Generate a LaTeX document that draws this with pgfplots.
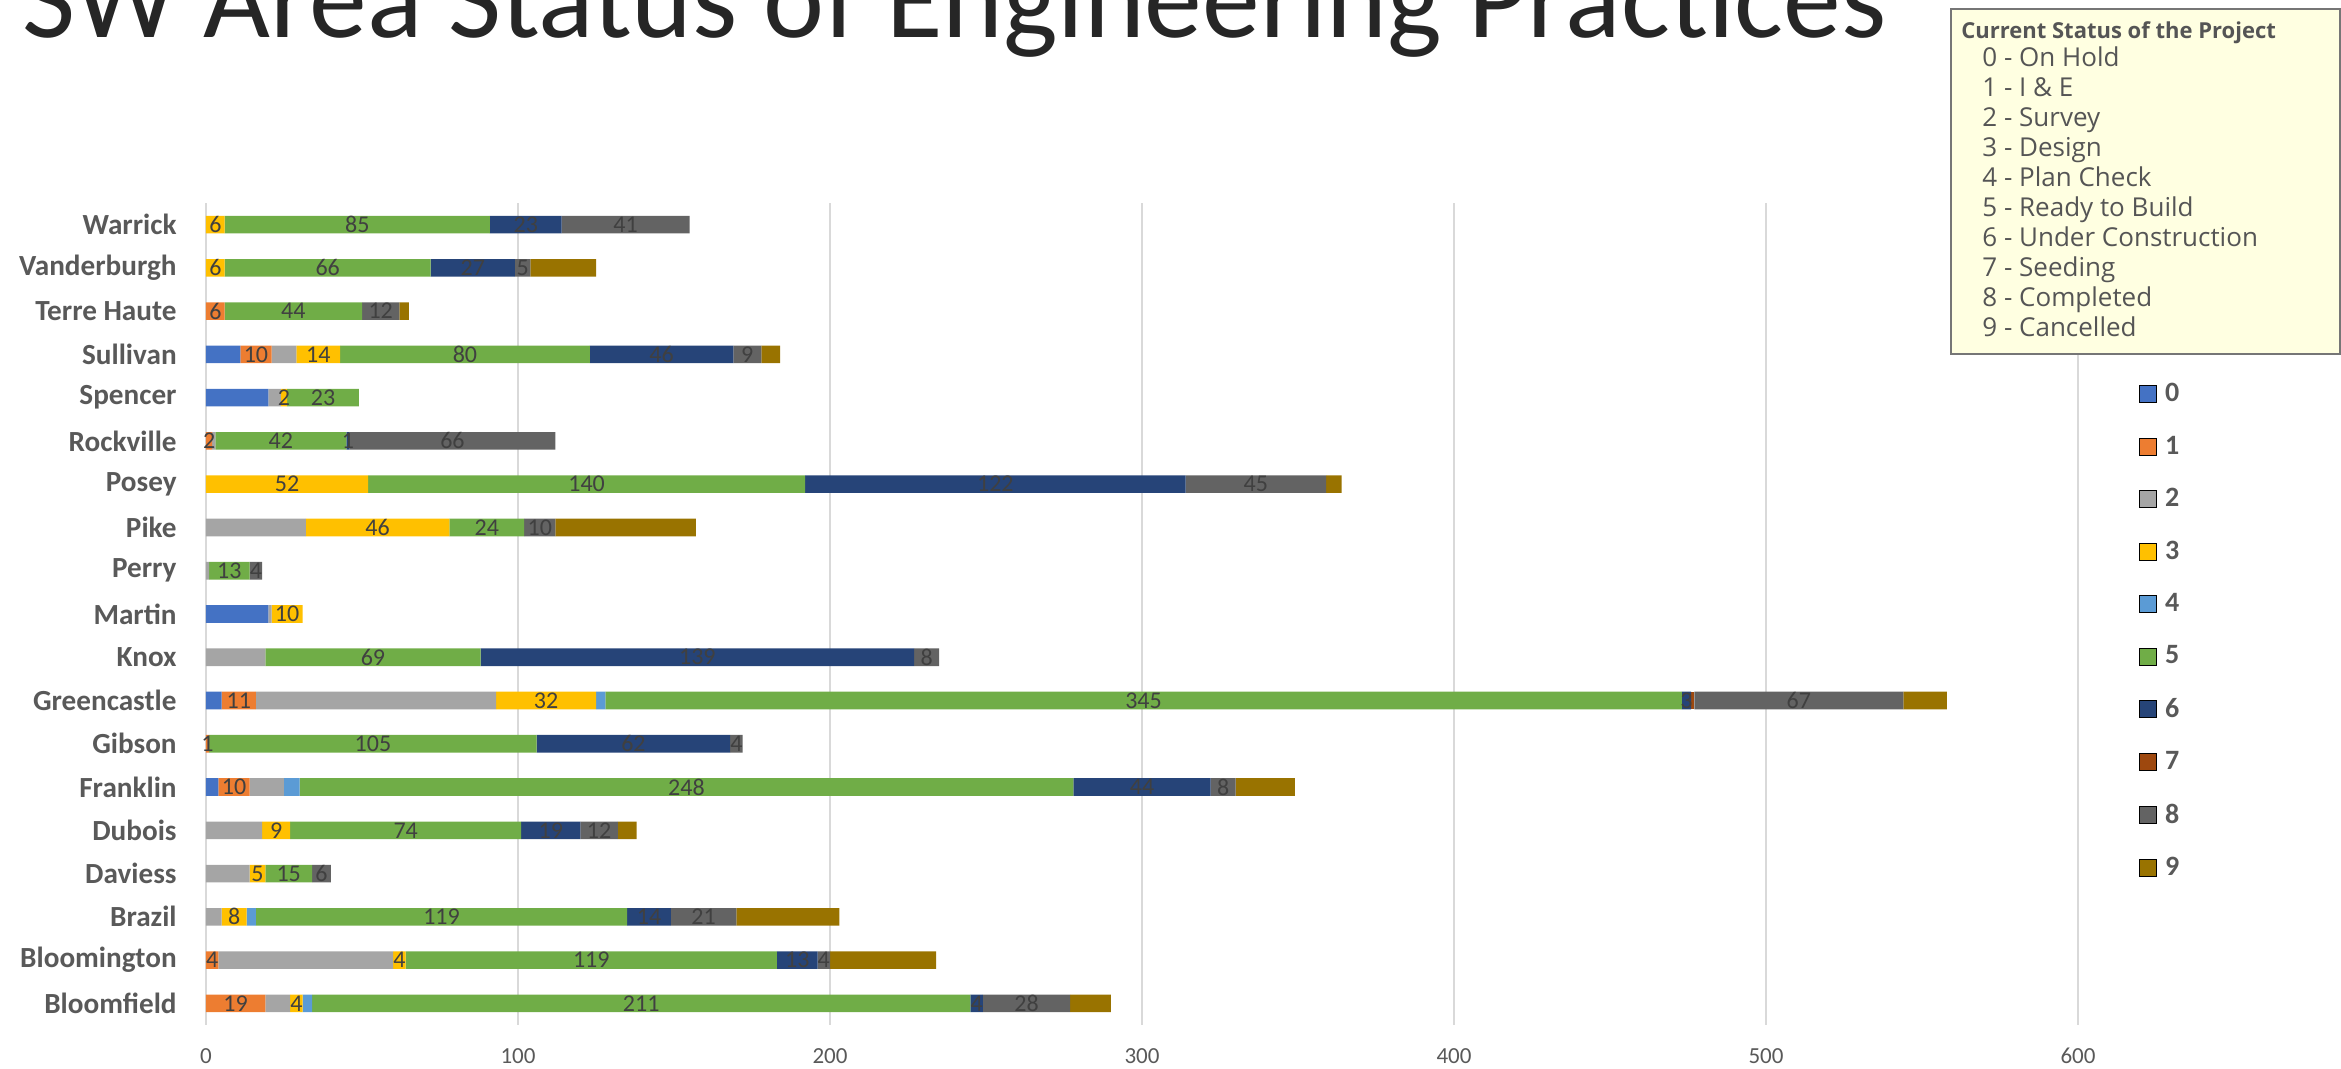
\documentclass[border=0pt]{standalone}
\usepackage{pgfplots}
\pgfplotsset{compat=1.18}
\usepackage{pgfplotstable}
\usepackage{fontspec}
\setmainfont{Carlito}
\newfontfamily\cmtfont{Open Sans}
\definecolor{c0}{HTML}{4472C4}
\definecolor{c1}{HTML}{ED7D31}
\definecolor{c2}{HTML}{A5A5A5}
\definecolor{c3}{HTML}{FFC000}
\definecolor{c4}{HTML}{5B9BD5}
\definecolor{c5}{HTML}{70AD47}
\definecolor{c6}{HTML}{264478}
\definecolor{c7}{HTML}{9E480E}
\definecolor{c8}{HTML}{636363}
\definecolor{c9}{HTML}{997300}
\definecolor{txt}{HTML}{595959}
\definecolor{lab}{HTML}{404040}
\definecolor{gridc}{HTML}{D9D9D9}
\definecolor{cmtfill}{HTML}{FFFFE1}
\definecolor{cmtborder}{HTML}{767676}
\definecolor{cmttext}{HTML}{555555}

% rows: 0 Bloomfield ... 18 Warrick; columns: status 0..9
\pgfplotstableread{
idx c0 c1 c2 c3 c4 c5 c6 c7 c8 c9
0  0  19 8  4  3 211 4   0 28 13
1  0  4  56 4  0 119 13  0 4  34
2  0  0  5  8  3 119 14  0 21 33
3  0  0  14 5  0 15  0   0 6  0
4  0  0  18 9  0 74  19  0 12 6
5  4  10 11 0  5 248 44  0 8  19
6  0  1  0  0  0 105 62  0 4  0
7  5  11 77 32 3 345 3   1 67 14
8  0  0  19 0  0 69  139 0 8  0
9  20 0  1  10 0 0   0   0 0  0
10 0  0  1  0  0 13  0   0 4  0
11 0  0  32 46 0 24  0   0 10 45
12 0  0  0  52 0 140 122 0 45 5
13 0  2  1  0  0 42  1   0 66 0
14 20 0  4  2  0 23  0   0 0  0
15 11 10 8  14 0 80  46  0 9  6
16 0  6  0  0  0 44  0   0 12 3
17 0  0  0  6  0 66  27  0 5  21
18 0  0  0  6  0 85  23  0 41 0
}\data

\pgfplotsset{
  lbl/.style={
    visualization depends on={rawx\as\segval},
    nodes near coords={\ifdim\segval pt>0pt \pgfmathprintnumber[assume math mode=true]{\segval}\fi},
    every node near coord/.append style={anchor=center,
      font=\fontsize{12}{13}\selectfont, text=lab, inner sep=0pt},
  },
  sq legend/.style={legend image code/.code={\fill[##1] (0pt,-4.25pt) rectangle (8.5pt,4.25pt);}},
  frame/.style={at={(103pt,22pt)}, anchor=south west,
    scale only axis, width=936pt, height=411pt,
    xbar stacked, bar width=8.8pt,
    xmin=0, xmax=600, ymin=-0.5, ymax=18.5, clip=false},
}

\begin{document}
\begin{tikzpicture}
\useasboundingbox (0,0) rectangle (1170.5pt,534.5pt);
\begin{axis}[
  frame,
  xtick={0,100,200,300,400,500,600},
  xticklabels={0,100,200,300,400,500,600},
  ytick={0,1,...,18},
  yticklabels={Bloomfield,Bloomington,Brazil,Daviess,Dubois,Franklin,Gibson,Greencastle,Knox,Martin,Perry,Pike,Posey,Rockville,Spencer,Sullivan,Terre Haute,Vanderburgh,Warrick},
  axis line style={draw=none}, major tick length=0pt,
  xmajorgrids, major grid style={draw=gridc, line width=1pt},
  xticklabel style={font=\fontsize{11.5}{12}\selectfont, color=txt, anchor=base, yshift=-19.2pt, inner sep=0pt},
  yticklabel style={font=\bfseries\fontsize{14.6}{16}\selectfont, color=txt, anchor=east, inner sep=0pt, xshift=-14.5pt},
  legend style={at={(1.0326,0.781)}, anchor=north west, draw=none, fill=none, inner sep=0pt,
    font=\bfseries\fontsize{14}{16}\selectfont, text=txt, row sep=15.6pt, column sep=4pt,
    nodes={inner sep=0pt}},
  legend cell align=left,
]
\addlegendimage{sq legend, fill=c0}
\addlegendimage{sq legend, fill=c1}
\addlegendimage{sq legend, fill=c2}
\addlegendimage{sq legend, fill=c3}
\addlegendimage{sq legend, fill=c4}
\addlegendimage{sq legend, fill=c5}
\addlegendimage{sq legend, fill=c6}
\addlegendimage{sq legend, fill=c7}
\addlegendimage{sq legend, fill=c8}
\addlegendimage{sq legend, fill=c9}
\addplot[forget plot, fill=c0, draw=none] table[x=c0, y=idx]{\data};
\addplot[forget plot, fill=c1, draw=none] table[x=c1, y=idx]{\data};
\addplot[forget plot, fill=c2, draw=none] table[x=c2, y=idx]{\data};
\addplot[forget plot, fill=c3, draw=none] table[x=c3, y=idx]{\data};
\addplot[forget plot, fill=c4, draw=none] table[x=c4, y=idx]{\data};
\addplot[forget plot, fill=c5, draw=none] table[x=c5, y=idx]{\data};
\addplot[forget plot, fill=c6, draw=none] table[x=c6, y=idx]{\data};
\addplot[forget plot, fill=c7, draw=none] table[x=c7, y=idx]{\data};
\addplot[forget plot, fill=c8, draw=none] table[x=c8, y=idx]{\data};
\addplot[forget plot, fill=c9, draw=none] table[x=c9, y=idx]{\data};
\legend{0,1,2,3,4,5,6,7,8,9}
\end{axis}
% data labels, drawn over all bars
\begin{axis}[frame, hide axis]
\addplot[fill=none, draw=none] table[x=c0, y=idx]{\data};
\addplot[fill=none, draw=none, lbl] table[x=c1, y=idx]{\data};
\addplot[fill=none, draw=none] table[x=c2, y=idx]{\data};
\addplot[fill=none, draw=none, lbl] table[x=c3, y=idx]{\data};
\addplot[fill=none, draw=none] table[x=c4, y=idx]{\data};
\addplot[fill=none, draw=none, lbl] table[x=c5, y=idx]{\data};
\addplot[fill=none, draw=none, lbl] table[x=c6, y=idx]{\data};
\addplot[fill=none, draw=none] table[x=c7, y=idx]{\data};
\addplot[fill=none, draw=none, lbl] table[x=c8, y=idx]{\data};
\addplot[fill=none, draw=none] table[x=c9, y=idx]{\data};
\end{axis}
\node[anchor=base west, inner sep=0pt, font=\fontsize{57.8}{60}\selectfont, text=black!85] at (11pt,515.5pt) {SW Area Status of Engineering Practices};
\draw[draw=cmtborder, line width=1pt, fill=cmtfill] (975.5pt,357.5pt) rectangle (1170pt,530pt);
\node[anchor=base west, inner sep=0pt, font=\cmtfont\bfseries\fontsize{11}{13}\selectfont, text=cmttext] at (980.5pt,515pt) {Current Status of the Project};
\foreach \t [count=\k from 0] in {0 - On Hold,1 - I \& E,2 - Survey,3 - Design,4 - Plan Check,5 - Ready to Build,6 - Under Construction,7 - Seeding,8 - Completed,9 - Cancelled}
  \node[anchor=base west, inner sep=0pt, font=\cmtfont\fontsize{13}{14}\selectfont, text=cmttext] at (991pt,501.2pt-15pt*\k) {\t};
\end{tikzpicture}
\end{document}
